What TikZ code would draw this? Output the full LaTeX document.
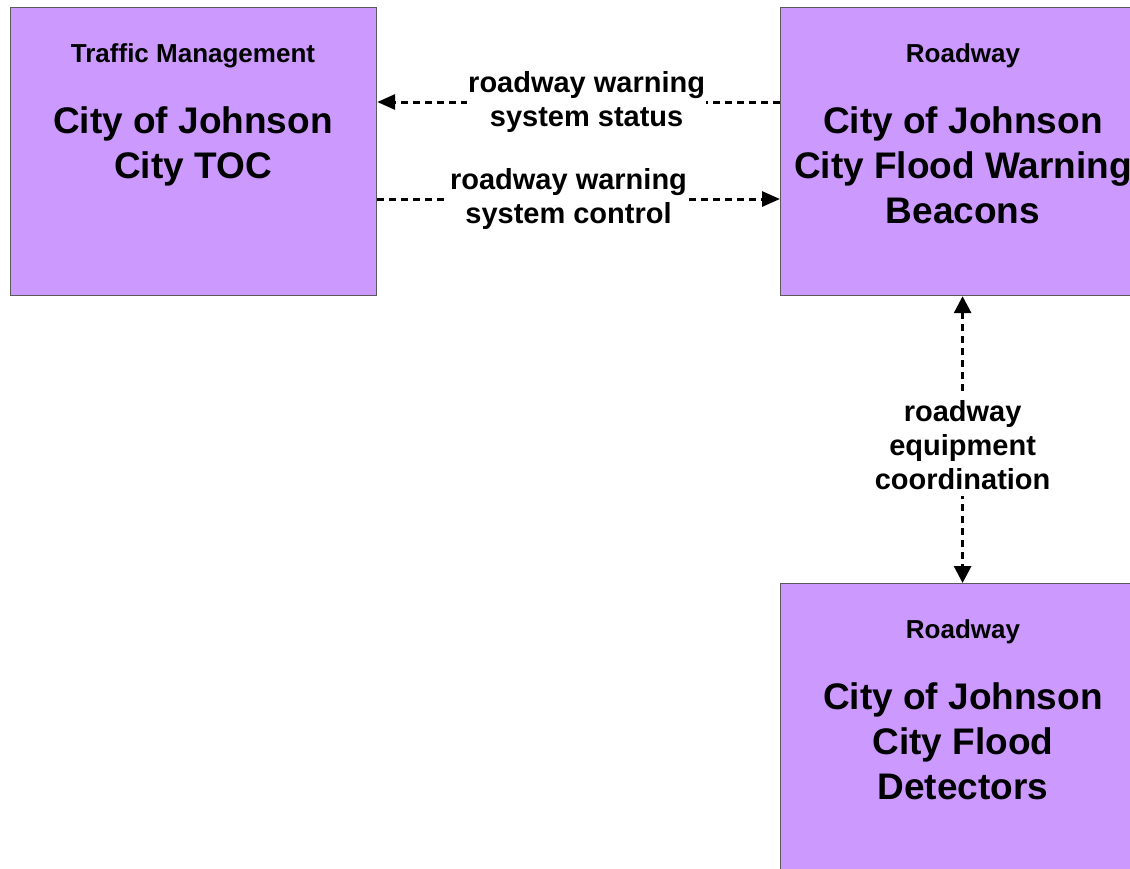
\documentclass[tikz,border=0pt]{standalone}
\usepackage{fontspec}
\setmainfont{Liberation Sans}
\usetikzlibrary{arrows.meta}
\definecolor{boxfill}{RGB}{204,153,255}
\definecolor{boxline}{RGB}{90,90,90}
\begin{document}
\begin{tikzpicture}[x=1pt,y=-1pt,
  sysbox/.style={draw=boxline, line width=1.2pt, fill=boxfill, minimum width=366pt, minimum height=288pt, anchor=north west, inner sep=0pt},
  cattext/.style={font=\bfseries\fontsize{26}{31}\selectfont, anchor=base, inner sep=0pt},
  maintext/.style={font=\bfseries\fontsize{37}{45}\selectfont, align=center, anchor=north, inner sep=0pt},
  flow/.style={dash pattern=on 7pt off 5pt, line width=3pt, -{Triangle[length=18pt,width=15pt]}},
  flowboth/.style={dash pattern=on 7pt off 5pt, line width=3pt, {Triangle[length=17pt,width=17pt]}-{Triangle[length=17pt,width=17pt]}},
  flowlabel/.style={font=\bfseries\fontsize{29}{34}\selectfont, align=center, fill=white, inner xsep=1pt, inner ysep=6pt}
]
\useasboundingbox (0,0) rectangle (1130,868);
\clip (0,0) rectangle (1130,868);
\node[sysbox] (toc) at (10,7) {};
\node[sysbox] (beacons) at (780,7) {};
\node[sysbox] (detectors) at (780,583) {};
\node[cattext] (tocCat) at (193,62) {Traffic Management};
\node[maintext] (tocName) at (193,106) {City of Johnson\\City TOC};
\node[cattext] (beaconsCat) at (963,62) {Roadway};
\node[maintext] (beaconsName) at (963,106) {City of Johnson\\City Flood Warning\\Beacons};
\node[cattext] (detectorsCat) at (963,638) {Roadway};
\node[maintext] (detectorsName) at (963,682) {City of Johnson\\City Flood\\Detectors};
\draw[flow] ([yshift=-95pt]beacons.north west) -- node[flowlabel, pos=0.48] (lbl1) {roadway warning\\system status} ([yshift=-95pt]toc.north east);
\draw[flow] ([yshift=-192pt]toc.north east) -- node[flowlabel, pos=0.475] (lbl2) {roadway warning\\system control} ([yshift=-192pt]beacons.north west);
\draw[flowboth] ([xshift=-1pt]beacons.south) -- node[flowlabel, pos=0.52] (lbl3) {roadway\\equipment\\coordination} ([xshift=-1pt]detectors.north);
\end{tikzpicture}
\end{document}
